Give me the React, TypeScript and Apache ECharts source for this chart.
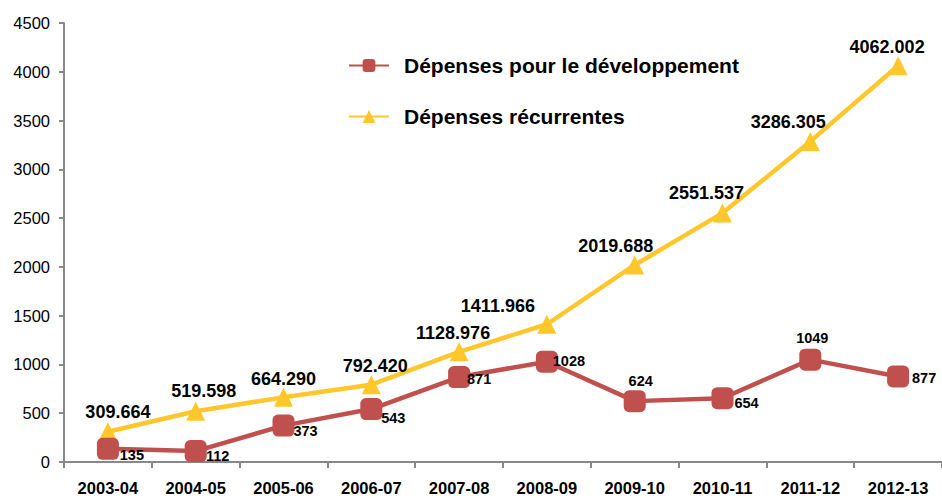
import React, { useEffect, useRef } from "react";
import * as echarts from "echarts";

const categories = ["2003-04", "2004-05", "2005-06", "2006-07", "2007-08", "2008-09", "2009-10", "2010-11", "2011-12", "2012-13"];
const devValues = [135, 112, 373, 543, 871, 1028, 624, 654, 1049, 877];
const recValues = [309.664, 519.598, 664.29, 792.42, 1128.976, 1411.966, 2019.688, 2551.537, 3286.305, 4062.002];
const devName = "Dépenses pour le développement";
const recName = "Dépenses récurrentes";

const devOffsets: [number, number][] = [[24, 6], [22, 5], [22, 5], [22, 9], [20, 2], [22, -1], [6, -20], [24, 5], [2, -22], [26, 2]];
const recOffsets: [number, number][] = [[10, -20], [8, -20], [0, -18], [4, -19], [-6, -19], [-49, -18], [-19, -19], [-16, -20], [-22, -19], [-11, -19]];

export default function App() {
  const ref = useRef<HTMLDivElement>(null);
  useEffect(() => {
    const chart = echarts.init(ref.current!, undefined, { renderer: "svg" });
    const font = "Liberation Sans, Arial, sans-serif";
    chart.setOption({
      animation: false,
      backgroundColor: "#ffffff",
      grid: { left: 64, top: 23, width: 880, bottom: 36, containLabel: false },
      legend: {
        orient: "vertical",
        left: 343,
        top: 50,
        itemGap: 30,
        itemWidth: 40,
        itemHeight: 16,
        textStyle: { fontFamily: font, fontWeight: "bold", fontSize: 21, color: "#000", padding: [0, 0, 0, 10] },
        data: [devName, recName],
      },
      xAxis: {
        type: "category",
        data: categories,
        boundaryGap: true,
        axisLine: { lineStyle: { color: "#888", width: 2 } },
        axisTick: { show: true, alignWithLabel: false, length: 6, lineStyle: { color: "#888", width: 2 } },
        axisLabel: { fontFamily: font, fontWeight: "bold", fontSize: 16.5, color: "#000", margin: 17 },
      },
      yAxis: {
        type: "value",
        min: 0,
        max: 4500,
        interval: 500,
        axisLine: { show: true, lineStyle: { color: "#888", width: 2 } },
        axisTick: { show: true, length: 5, lineStyle: { color: "#888", width: 2 } },
        splitLine: { show: false },
        axisLabel: { fontFamily: font, fontSize: 16.5, color: "#000", margin: 14, formatter: (v: number) => String(v) },
      },
      series: [
        {
          name: devName,
          type: "line",
          data: devValues.map((v, i) => ({
            value: v,
            label: { offset: devOffsets[i] },
          })),
          color: "#C0504D",
          lineStyle: { color: "#C0504D", width: 4.5 },
          symbol: "roundRect",
          symbolSize: 22,
          itemStyle: { color: "#C0504D" },
          label: {
            show: true,
            position: "inside",
            fontFamily: font,
            fontWeight: "bold",
            fontSize: 14.5,
            color: "#000",
          },
          z: 3,
        },
        {
          name: recName,
          type: "line",
          data: recValues.map((v, i) => ({
            value: v,
            label: { offset: recOffsets[i] },
          })),
          color: "#FFC72C",
          lineStyle: { color: "#FFC72C", width: 4.5 },
          symbol: "triangle",
          symbolSize: 19,
          itemStyle: { color: "#FFC72C" },
          label: {
            show: true,
            position: "inside",
            fontFamily: font,
            fontWeight: "bold",
            fontSize: 18,
            color: "#000",
            formatter: (p: any) => p.value.toFixed(3),
          },
          z: 2,
        },
      ],
    });
    return () => chart.dispose();
  }, []);
  return <div ref={ref} style={{ width: 942, height: 498, position: "absolute", left: 0, top: 0 }} />;
}
